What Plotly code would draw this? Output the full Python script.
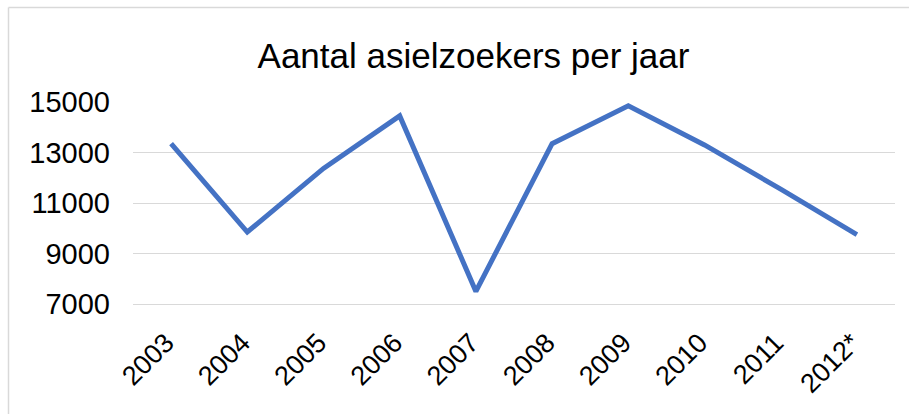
import plotly.graph_objects as go

title_text = "Aantal asielzoekers per jaar"
years = ["2003", "2004", "2005", "2006", "2007", "2008", "2009", "2010", "2011", "2012*"]
asylum_seekers = [13350, 9850, 12370, 14450, 7500, 13350, 14850, 13300, 11550, 9750]
y_ticks = [7000, 9000, 11000, 13000, 15000]

W, H = 909, 414
ml, mr, mt, mb = 133, 14, 102, 110
pw, ph = W - ml - mr, H - mt - mb

fig = go.Figure()
fig.add_trace(go.Scatter(
    x=list(range(len(years))), y=asylum_seekers, mode="lines",
    line=dict(color="#4472C4", width=5, shape="linear"),
    hoverinfo="skip", showlegend=False,
))

def px_to_paper_x(px):
    return (px - ml) / pw

def py_to_paper_y(py):
    return (H - mb - py) / ph

border_col = "#D9D9D9"
fig.add_shape(type="line", xref="paper", yref="paper",
              x0=px_to_paper_x(8.5), x1=px_to_paper_x(8.5),
              y0=py_to_paper_y(7.5), y1=py_to_paper_y(420),
              line=dict(color=border_col, width=1.5))
fig.add_shape(type="line", xref="paper", yref="paper",
              x0=px_to_paper_x(8.5), x1=px_to_paper_x(915),
              y0=py_to_paper_y(7.5), y1=py_to_paper_y(7.5),
              line=dict(color=border_col, width=1.5))

fig.update_layout(
    width=W, height=H,
    margin=dict(l=ml, r=mr, t=mt, b=mb, pad=0, autoexpand=False),
    paper_bgcolor="white", plot_bgcolor="white",
    font=dict(family="Liberation Sans, Arial, sans-serif", color="#000000"),
    title=dict(text=title_text, x=473.5 / W, xanchor="center", xref="container",
               y=1 - 56 / H, yanchor="middle", yref="container",
               font=dict(size=35, color="#000000")),
    xaxis=dict(
        range=[-0.5, len(years) - 0.5],
        tickmode="array", tickvals=list(range(len(years))), ticktext=years,
        tickangle=-45, tickfont=dict(size=27),
        showgrid=False, zeroline=False, ticks="",
        showline=True, linecolor="#D9D9D9", linewidth=1.3,
        ticklabelstandoff=11, ticklabelshift=-5, automargin=False,
    ),
    yaxis=dict(
        range=[7000, 15000], tickmode="array", tickvals=y_ticks,
        ticktext=[str(v) for v in y_ticks],
        tickfont=dict(size=29), showgrid=True, gridcolor="#D9D9D9", gridwidth=1.3,
        zeroline=False, showline=False, ticks="", ticklabelstandoff=22,
        automargin=False,
    ),
)

fig.write_html("out.html", config={"displayModeBar": False},
               post_script="document.body.style.margin='0';document.body.style.overflow='hidden';")
